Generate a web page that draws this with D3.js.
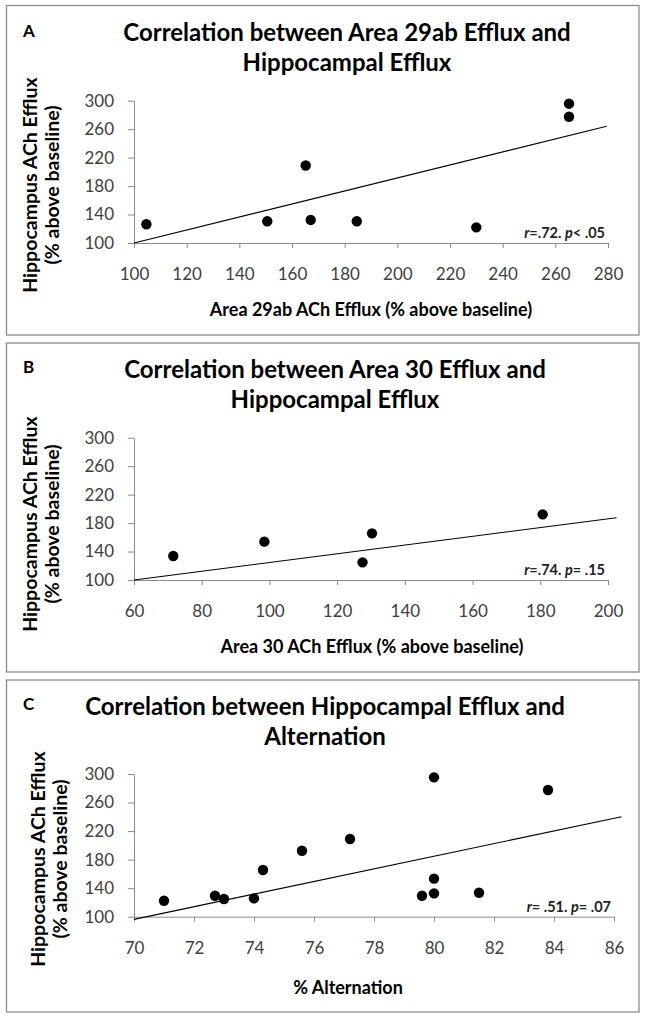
<!DOCTYPE html>
<html>
<head>
<meta charset="utf-8">
<title>Correlations</title>
<script src="https://cdnjs.cloudflare.com/ajax/libs/d3/7.8.5/d3.min.js"></script>
<style>
  body { margin: 0; background: #fff; }
  svg text { font-family: Lato, "Open Sans", sans-serif; }
</style>
</head>
<body>
<script>
// panel A : area 29ab vs hippocampus
var aX = [104.7, 150.6, 165.2, 167.1, 184.6, 230, 265.2, 265.2];
var aY = [126.3, 130.5, 208.9, 132.4, 130.5, 122, 295.8, 277.5];
var aTrend = [[100, 100], [279.5, 264]];
var aTicksX = [100, 120, 140, 160, 180, 200, 220, 240, 260, 280];

// panel B : area 30 vs hippocampus
var bX = [71.6, 98.5, 127.5, 130.3, 180.7];
var bY = [133.7, 153.9, 124.8, 165.6, 192.3];
var bTrend = [[60, 100], [202.5, 187.5]];
var bTicksX = [60, 80, 100, 120, 140, 160, 180, 200];

// panel C : hippocampus vs alternation
var cX = [71, 72.7, 73, 74, 74.3, 75.6, 77.2, 79.6, 80, 80, 80, 81.5, 83.8];
var cY = [122.4, 129.4, 124.8, 125.7, 165.4, 192.5, 208.9, 129.4, 295.3, 153.3, 132.7, 133.6, 277.6];
var cTrend = [[70, 96.3], [86.25, 240]];
var cTicksX = [70, 72, 74, 76, 78, 80, 82, 84, 86];

var ticksY = [100, 140, 180, 220, 260, 300];

var W = 649, H = 1019;
var svg = d3.select("body").append("svg").attr("width", W).attr("height", H);

var panels = [
  { letter: "A", top: 5.5, bottom: 335, xs: aX, ys: aY, trend: aTrend, ticks: aTicksX,
    title: ["Correlation between Area 29ab Efflux and", "Hippocampal Efflux"], titleX: 347,
    xTitle: "Area 29ab ACh Efflux (% above baseline)", xTitleX: 371, xTitleDy: 73,
    stat: [["r", true], ["=.72. ", false], ["p", true], ["< .05", false]],
    plotTop: 100.7, plotBottom: 243, plotRight: 608, titleY: 41, letterY: 36.5,
    yTitleX: 37, yTitleY: 185 },
  { letter: "B", top: 343, bottom: 672, xs: bX, ys: bY, trend: bTrend, ticks: bTicksX,
    title: ["Correlation between Area 30 Efflux and", "Hippocampal Efflux"], titleX: 335,
    xTitle: "Area 30 ACh Efflux (% above baseline)", xTitleX: 372, xTitleDy: 73,
    stat: [["r", true], ["=.74. ", false], ["p", true], ["= .15", false]],
    plotTop: 437.7, plotBottom: 580, plotRight: 608, titleY: 378, letterY: 373,
    yTitleX: 37, yTitleY: 524 },
  { letter: "C", top: 680, bottom: 1012, xs: cX, ys: cY, trend: cTrend, ticks: cTicksX,
    title: ["Correlation between Hippocampal Efflux and", "Alternation"], titleX: 325,
    xTitle: "% Alternation", xTitleX: 348, xTitleDy: 77,
    stat: [["r", true], ["= .51.  ", false], ["p", true], ["= .07", false]],
    plotTop: 774, plotBottom: 916.7, plotRight: 614, titleY: 714.5, letterY: 709.5,
    yTitleX: 45, yTitleY: 859 }
];

var left = 134;

panels.forEach(function(p) {
  var g = svg.append("g");

  // frame
  g.append("rect")
    .attr("x", 6.5).attr("y", p.top)
    .attr("width", 632.5).attr("height", p.bottom - p.top)
    .attr("fill", "none").attr("stroke", "#8c8c8c").attr("stroke-width", 1.3);

  g.append("text").attr("x", 23).attr("y", p.letterY)
    .attr("font-size", 17).attr("font-weight", "bold").text(p.letter);

  g.selectAll(".ttl").data(p.title).enter().append("text")
    .attr("x", p.titleX).attr("y", function(d, i) { return p.titleY + i * 30; })
    .attr("text-anchor", "middle").attr("font-size", 24).attr("font-weight", "bold")
    .text(function(d) { return d; });

  var x = d3.scaleLinear().domain([p.ticks[0], p.ticks[p.ticks.length - 1]]).range([left, p.plotRight]);
  var y = d3.scaleLinear().domain([100, 300]).range([p.plotBottom, p.plotTop]);

  var xAxis = g.append("g").attr("transform", "translate(0," + p.plotBottom + ")")
    .call(d3.axisBottom(x).tickValues(p.ticks).tickSizeInner(5).tickSizeOuter(0).tickPadding(20));
  var yAxis = g.append("g").attr("transform", "translate(" + left + ",0)")
    .call(d3.axisLeft(y).tickValues(ticksY).tickSizeInner(6).tickSizeOuter(0).tickPadding(14));

  [xAxis, yAxis].forEach(function(ax) {
    ax.select(".domain").attr("stroke", "#8a8a8a");
    ax.selectAll(".tick line").attr("stroke", "#8a8a8a");
    ax.selectAll(".tick text").attr("font-size", 17).attr("fill", "#404040")
      .attr("font-family", "Lato, sans-serif");
  });

  // trend line
  g.append("line")
    .attr("x1", x(p.trend[0][0])).attr("y1", y(p.trend[0][1]))
    .attr("x2", x(p.trend[1][0])).attr("y2", y(p.trend[1][1]))
    .attr("stroke", "#000").attr("stroke-width", 1.1);

  g.selectAll("circle").data(p.xs).enter().append("circle")
    .attr("cx", function(d) { return x(d); })
    .attr("cy", function(d, i) { return y(p.ys[i]); })
    .attr("r", 5.2).attr("fill", "#000");

  var st = g.append("text").attr("x", p.plotRight - 3).attr("y", p.plotBottom - 5)
    .attr("text-anchor", "end").attr("font-size", 14.5).attr("font-weight", "bold")
    .attr("fill", "#222");
  p.stat.forEach(function(s) {
    st.append("tspan").attr("font-style", s[1] ? "italic" : "normal").text(s[0]);
  });

  g.append("text").attr("x", p.xTitleX).attr("y", p.plotBottom + p.xTitleDy)
    .attr("text-anchor", "middle").attr("font-size", 18).attr("font-weight", "bold")
    .text(p.xTitle);

  var yt = g.append("text")
    .attr("transform", "translate(" + p.yTitleX + "," + p.yTitleY + ") rotate(-90)")
    .attr("text-anchor", "middle").attr("font-size", 19.5).attr("font-weight", "bold");
  yt.append("tspan").attr("x", 0).attr("y", 0).text("Hippocampus ACh Efflux");
  yt.append("tspan").attr("x", 0).attr("y", 22).text("(% above baseline)");
});
</script>
</body>
</html>
